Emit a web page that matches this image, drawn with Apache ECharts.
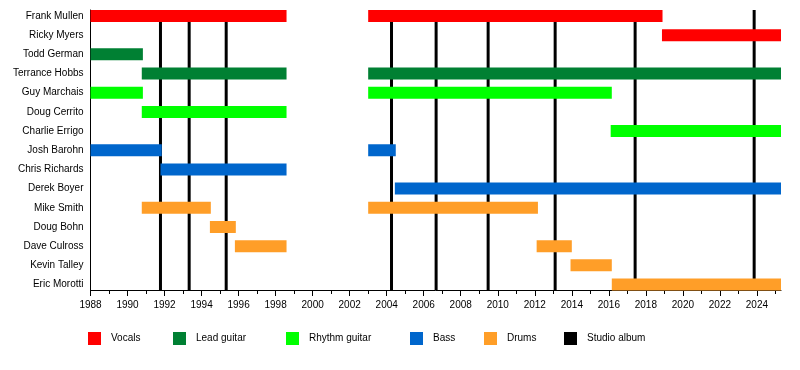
<!DOCTYPE html>
<html>
<head>
<meta charset="utf-8">
<script src="https://cdn.jsdelivr.net/npm/echarts@6/dist/echarts.min.js"></script>
<style>html,body{margin:0;padding:0;background:#fff;}#c{width:800px;height:370px;}</style>
</head>
<body>
<div id="c"></div>
<script>
// Band members (top to bottom)
const members = ['Frank Mullen','Ricky Myers','Todd German','Terrance Hobbs','Guy Marchais','Doug Cerrito','Charlie Errigo','Josh Barohn','Chris Richards','Derek Boyer','Mike Smith','Doug Bohn','Dave Culross','Kevin Talley','Eric Morotti'];

// Tenures: [member, start year, end year]
const vocals = [['Frank Mullen',1988,1998.59],['Frank Mullen',2003.0,2018.9],['Ricky Myers',2018.87,2025.3]];
const leadGuitar = [['Todd German',1988,1990.83],['Terrance Hobbs',1990.77,1998.59],['Terrance Hobbs',2003.0,2025.3]];
const rhythmGuitar = [['Guy Marchais',1988,1990.83],['Guy Marchais',2003.0,2016.16],['Doug Cerrito',1990.77,1998.59],['Charlie Errigo',2016.1,2025.3]];
const bass = [['Josh Barohn',1988,1991.85],['Josh Barohn',2003.0,2004.49],['Chris Richards',1991.78,1998.59],['Derek Boyer',2004.44,2025.3]];
const drums = [['Mike Smith',1990.77,1994.5],['Mike Smith',2003.0,2012.17],['Doug Bohn',1994.45,1995.85],['Dave Culross',1995.8,1998.59],['Dave Culross',2012.1,2014.0],['Kevin Talley',2013.93,2016.16],['Eric Morotti',2016.16,2025.3]];
// Studio album release dates
const studioAlbums = [1991.78,1993.33,1995.33,2004.26,2006.67,2009.48,2013.1,2017.42,2023.85];

// Axis ticks
const majorTickYears = [1988,1990,1992,1994,1996,1998,2000,2002,2004,2006,2008,2010,2012,2014,2016,2018,2020,2022,2024];
const minorTickYears = [1989,1991,1993,1995,1997,1999,2001,2003,2005,2007,2009,2011,2013,2015,2017,2019,2021,2023,2025];
const xMin = 1988, xMax = 2025.3;

const roles = [
  {name:'Vocals', data:vocals, color:'#FF0000', legendLeft:88},
  {name:'Lead guitar', data:leadGuitar, color:'#008033', legendLeft:173},
  {name:'Rhythm guitar', data:rhythmGuitar, color:'#00FF00', legendLeft:286},
  {name:'Bass', data:bass, color:'#0066CC', legendLeft:410},
  {name:'Drums', data:drums, color:'#FF9E28', legendLeft:484}
];

const yMin = -0.3128, yMax = 14.286;
const font = "'Liberation Sans', Arial, Helvetica, sans-serif";

function barRender(params, api) {
  const s = api.coord([api.value(0), api.value(2)]);
  const e = api.coord([api.value(1), api.value(2)]);
  return {type:'rect', shape:{x:s[0], y:s[1]-6, width:e[0]-s[0], height:12}, style:api.style()};
}
function lineRender(params, api) {
  const t = api.coord([api.value(0), yMin]);
  const b = api.coord([api.value(0), yMax]);
  return {type:'line', shape:{x1:t[0], y1:t[1], x2:b[0], y2:b[1]}, style:{stroke:'#000', lineWidth:3}};
}

const series = [{
  name:'Studio album', type:'custom', renderItem:lineRender, z:1,
  itemStyle:{color:'#000'},
  encode:{x:0},
  data: studioAlbums.map(v => [v])
}];
roles.forEach(r => {
  series.push({
    name:r.name, type:'custom', renderItem:barRender, z:2,
    itemStyle:{color:r.color},
    encode:{x:[0,1], y:2},
    data: r.data.map(d => [d[1], d[2], members.indexOf(d[0])])
  });
});

const legends = roles.map(r => ({name:r.name, left:r.legendLeft}))
  .concat([{name:'Studio album', left:564}])
  .map(l => ({
    data:[l.name], left:l.left, top:332, padding:0, itemWidth:13, itemHeight:13, icon:'rect',
    selectedMode:false,
    textStyle:{fontSize:10, color:'#000', fontFamily:font, padding:[4,0,0,5]}
  }));

const chart = echarts.init(document.getElementById('c'), null, {renderer:'canvas'});
chart.setOption({
  animation:false,
  textStyle:{fontFamily:font},
  grid:{left:90.5, right:19, top:10, bottom:80},
  legend: legends,
  xAxis:[{
    type:'value', min:xMin, max:xMax, interval:2, position:'bottom',
    axisLine:{show:true, onZero:false, lineStyle:{color:'#000', width:1}},
    axisTick:{show:true, length:6, lineStyle:{color:'#000'}, customValues:majorTickYears},
    axisLabel:{fontSize:10, color:'#000', margin:10, fontFamily:font, customValues:majorTickYears, formatter:v=>String(v)},
    splitLine:{show:false}
  },{
    type:'value', min:xMin, max:xMax, position:'bottom',
    axisLine:{show:false, onZero:false},
    axisTick:{show:true, length:4, lineStyle:{color:'#000'}, customValues:minorTickYears},
    axisLabel:{show:false},
    splitLine:{show:false}
  }],
  yAxis:{
    type:'value', inverse:true, min:yMin, max:yMax,
    axisLine:{show:true, onZero:false, lineStyle:{color:'#000', width:1}},
    axisTick:{show:false},
    axisLabel:{fontSize:10, color:'#000', margin:7, fontFamily:font, padding:[2,0,0,0],
      customValues: members.map((m,i)=>i), formatter:v=>members[Math.round(v)] || ''},
    splitLine:{show:false}
  },
  series: series
});
</script>
</body>
</html>
